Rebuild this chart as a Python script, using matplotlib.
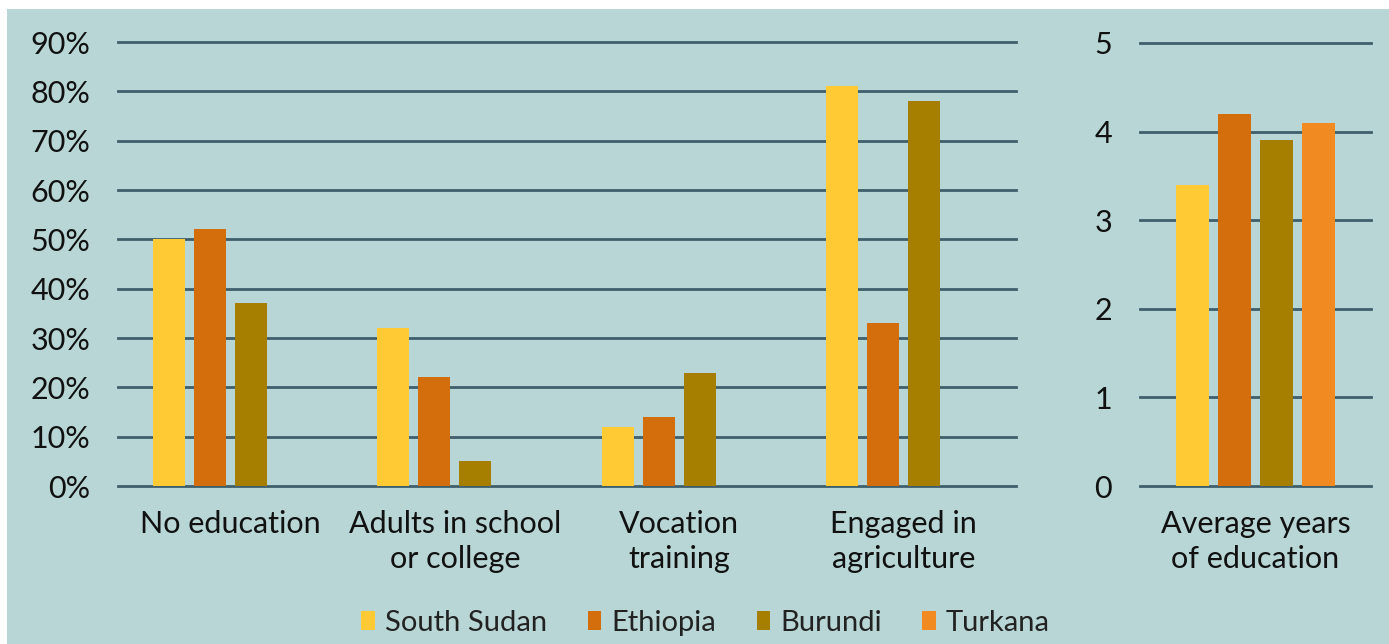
import matplotlib
matplotlib.use("Agg")
import matplotlib.pyplot as plt
from matplotlib.patches import Rectangle, Patch
import numpy as np

plt.rcParams['font.family'] = ['Lato', 'DejaVu Sans']

categories = ["No education", "Adults in school\nor college", "Vocation\ntraining", "Engaged in\nagriculture"]
series = ["South Sudan", "Ethiopia", "Burundi", "Turkana"]
colors = ["#FFCA33", "#D46D0C", "#A67F00", "#F28A22"]
south_sudan = [50, 32, 12, 81]
ethiopia = [52, 22, 14, 33]
burundi = [37, 5, 23, 78]
turkana = [np.nan, np.nan, np.nan, np.nan]
left_values = [south_sudan, ethiopia, burundi, turkana]

right_category = ["Average years\nof education"]
avg_years = [3.4, 4.2, 3.9, 4.1]
left_ticks = [0, 10, 20, 30, 40, 50, 60, 70, 80, 90]
right_ticks = [0, 1, 2, 3, 4, 5]

W, H = 1389, 644
fig = plt.figure(figsize=(W/100, H/100), dpi=100, facecolor="white")
bg = "#B8D6D6"
fig.patches.append(Rectangle((7/W, 0), 1 - 7/W, 1 - 9/H, transform=fig.transFigure,
                             facecolor=bg, edgecolor="none", zorder=-10))

grid_c = "#3E5F6B"
text_c = "#111111"
bottom = 1 - 486/H

ax1 = fig.add_axes([118/W, bottom, 898/W, (486-42)/H])
ax2 = fig.add_axes([1140/W, bottom, 231/W, (486-43)/H])

bw = 0.143
step = 0.183
x = np.arange(len(categories))
for i, (vals, c) in enumerate(zip(left_values, colors)):
    ax1.bar(x + (i - 1.5)*step, vals, width=bw, color=c, zorder=3)
ax1.set_xlim(-0.5, len(categories) - 0.5)
ax1.set_ylim(0, 90)
ax1.set_yticks(left_ticks)
ax1.set_yticklabels([f"{t}%" for t in left_ticks])
ax1.set_xticks(x)
ax1.set_xticklabels(categories, linespacing=1.32)

for i, (v, c) in enumerate(zip(avg_years, colors)):
    ax2.bar(0 + (i - 1.5)*step, v, width=bw, color=c, zorder=3)
ax2.set_xlim(-0.5, 0.5)
ax2.set_ylim(0, 5)
ax2.set_yticks(right_ticks)
ax2.set_xticks([0])
ax2.set_xticklabels(right_category, linespacing=1.32)

for ax in (ax1, ax2):
    ax.set_facecolor("none")
    for s in ax.spines.values():
        s.set_visible(False)
    ax.yaxis.grid(True, color=grid_c, linewidth=2, zorder=1)
    ax.set_axisbelow(True)
    ax.tick_params(axis="both", length=0, labelsize=22, colors=text_c)
    ax.tick_params(axis="y", pad=20)
    ax.tick_params(axis="x", pad=17)
    for gl in ax.get_ygridlines():
        gl.set_clip_on(False)

handles = [Patch(facecolor=c, edgecolor="none") for c in colors]
fig.legend(handles, series, loc="center", bbox_to_anchor=(0.508, 1 - 623/H), ncol=4,
           frameon=False, fontsize=21, handlelength=0.45, handleheight=0.6,
           handletextpad=0.35, columnspacing=1.4, labelcolor="#222222")

fig.savefig("out.png", dpi=100, facecolor="white")
